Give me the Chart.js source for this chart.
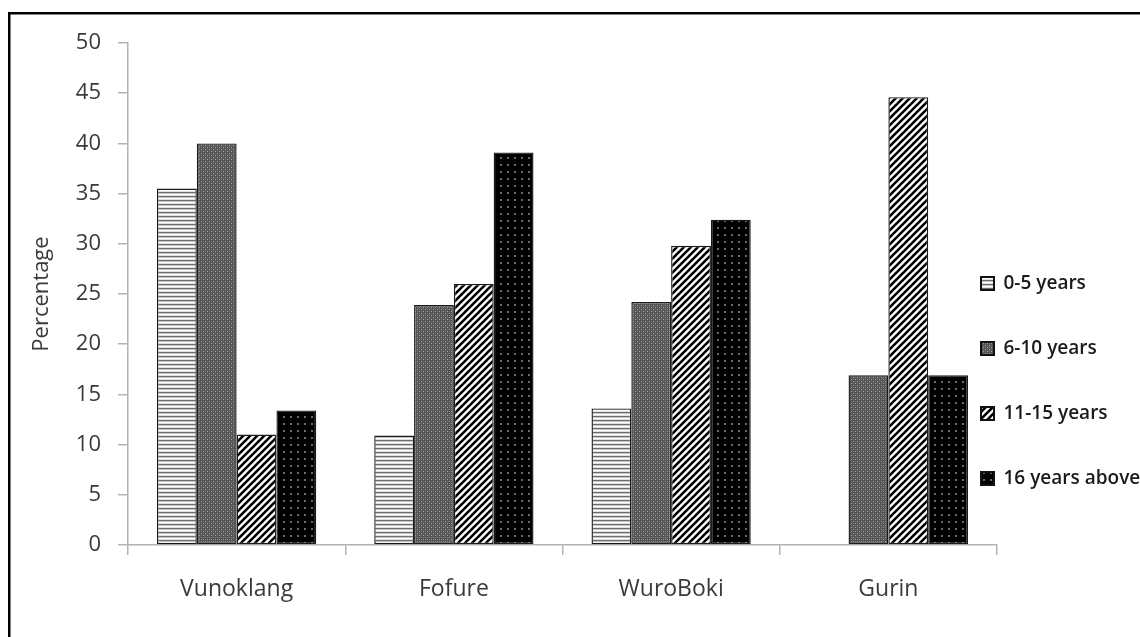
<!DOCTYPE html>
<html>
<head>
<meta charset="utf-8">
<title>Duration of residence by settlement</title>
<script src="https://cdn.jsdelivr.net/npm/chart.js@4.4.1/dist/chart.umd.min.js"></script>
<style>
  html, body { margin: 0; padding: 0; background: #ffffff; }
  #wrap { position: relative; width: 1140px; height: 637px; }
</style>
</head>
<body>
<div id="wrap"><canvas id="chart" width="1140" height="637"></canvas></div>
<script>
// Settlements on the category axis
const categories = ['Vunoklang', 'Fofure', 'WuroBoki', 'Gurin'];

// Share of respondents (%) by length of residence
const years0to5   = [35.5, 10.9, 13.6, 0];
const years6to10  = [40.0, 23.9, 24.2, 16.9];
const years11to15 = [11.0, 26.0, 29.8, 44.6];
const years16plus = [13.4, 39.1, 32.4, 16.9];

const seriesLabels = ['0-5 years', '6-10 years', '11-15 years', '16 years above'];

// Y axis ticks
const yTicks = [0, 5, 10, 15, 20, 25, 30, 35, 40, 45, 50];

// --- monochrome fill patterns ---
function makePattern(w, h, paint) {
  const c = document.createElement('canvas');
  c.width = w; c.height = h;
  const g = c.getContext('2d');
  paint(g, w, h);
  return g.createPattern(c, 'repeat');
}

const hStripes = makePattern(1, 4, (g) => {
  const rows = ['#6e6e6e', '#c4c4c4', '#ffffff', '#e0e0e0'];
  rows.forEach((col, i) => { g.fillStyle = col; g.fillRect(0, i, 1, 1); });
});

const greyDots = makePattern(4, 4, (g) => {
  g.fillStyle = '#545454'; g.fillRect(0, 0, 4, 4);
  g.fillStyle = '#a0a0a0'; g.fillRect(1, 1, 1, 1); g.fillRect(3, 3, 1, 1);
  g.fillStyle = '#747474'; g.fillRect(1, 3, 1, 1); g.fillRect(3, 1, 1, 1);
});

const diagLines = makePattern(7, 7, (g, w, h) => {
  g.fillStyle = '#ffffff'; g.fillRect(0, 0, w, h);
  g.strokeStyle = '#000000'; g.lineWidth = 2.6;
  for (let k = -1; k <= 1; k++) {
    g.beginPath();
    g.moveTo(k * w - 1, h + 1);
    g.lineTo(k * w + w + 1, -1);
    g.stroke();
  }
});

const blackDots = makePattern(7, 7, (g, w, h) => {
  g.fillStyle = '#000000'; g.fillRect(0, 0, w, h);
  g.fillStyle = '#6c6c6c'; g.fillRect(3, 3, 2, 2);
});

const fills = [hStripes, greyDots, diagLines, blackDots];
const values = [years0to5, years6to10, years11to15, years16plus];

const datasets = seriesLabels.map((label, i) => ({
  label,
  data: values[i],
  backgroundColor: fills[i],
  borderColor: '#1c1c1c',
  borderWidth: 1.4,
  borderSkipped: false,
  categoryPercentage: 0.733,
  barPercentage: 1.0
}));

// Outer frame (top and left rules of the figure box)
const frame = {
  id: 'frame',
  beforeDraw(chart) {
    const ctx = chart.ctx;
    ctx.save();
    ctx.fillStyle = '#ffffff';
    ctx.fillRect(0, 0, chart.width, chart.height);
    ctx.fillStyle = '#000000';
    ctx.fillRect(8, 12, chart.width - 8, 2.5);
    ctx.fillRect(8, 12, 2.5, chart.height - 12);
    ctx.restore();
  }
};

// Legend sits tucked in beside the last group, lower than centre
const legendPlace = {
  id: 'legendPlace',
  afterLayout(chart) {
    const lg = chart.legend;
    const pad = chart.options.plugins.legend.labels.padding;
    const dx = (chart.chartArea.right - 16) - (lg.left + pad);
    lg.left += dx;
    lg.width = lg.right - lg.left;
    lg.top = chart.chartArea.top + 231 - pad;
    lg.height = lg.bottom - lg.top;
  }
};

const axisGrey = '#b3b3b3';
const textGrey = '#3a3a3a';

new Chart(document.getElementById('chart'), {
  type: 'bar',
  data: { labels: categories, datasets },
  plugins: [frame, legendPlace],
  options: {
    responsive: false,
    animation: false,
    devicePixelRatio: 1,
    layout: { padding: { top: 43, left: 29, right: 0, bottom: 0 } },
    plugins: {
      tooltip: { enabled: false },
      legend: {
        position: 'right',
        align: 'start',
        maxWidth: 143,
        labels: {
          boxWidth: 13,
          boxHeight: 13,
          padding: 46,
          color: '#1a1a1a',
          font: { family: 'Open Sans', size: 19, weight: '600' },
          generateLabels(chart) {
            const items = Chart.defaults.plugins.legend.labels.generateLabels(chart);
            items.forEach(it => { it.lineWidth = 2; it.strokeStyle = '#111111'; });
            return items;
          }
        }
      }
    },
    scales: {
      x: {
        grid: {
          display: true,
          offset: true,
          drawOnChartArea: false,
          drawTicks: true,
          tickLength: 10,
          color: axisGrey,
          lineWidth: 1.5
        },
        border: { display: true, color: axisGrey, width: 1.5 },
        ticks: {
          color: textGrey,
          padding: 21,
          font: { family: 'Open Sans', size: 23 }
        },
        afterFit(scale) { scale.height = 92; }
      },
      y: {
        min: 0,
        max: 50,
        afterBuildTicks(scale) { scale.ticks = yTicks.map(v => ({ value: v })); },
        grid: {
          display: true,
          drawOnChartArea: false,
          drawTicks: true,
          tickLength: 10,
          color: axisGrey,
          lineWidth: 1.5
        },
        border: { display: true, color: axisGrey, width: 1.5 },
        ticks: {
          color: textGrey,
          padding: 17,
          font: { family: 'Open Sans', size: 22 }
        },
        title: {
          display: true,
          text: 'Percentage',
          color: textGrey,
          padding: 0,
          font: { family: 'Open Sans', size: 22 }
        },
        afterFit(scale) { scale.width = 99; }
      }
    }
  }
});
</script>
</body>
</html>
